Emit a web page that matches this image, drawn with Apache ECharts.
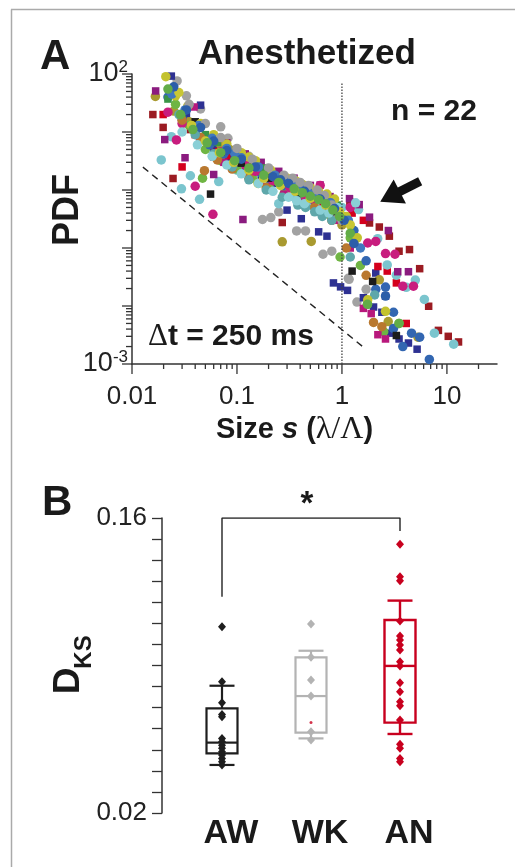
<!DOCTYPE html>
<html>
<head>
<meta charset="utf-8">
<script src="https://cdn.jsdelivr.net/npm/echarts@6/dist/echarts.min.js"></script>
<style>
  html, body { margin: 0; padding: 0; background: #fff; }
  #main { width: 515px; height: 867px; }
</style>
</head>
<body>
<div id="main"></div>
<script>
// ---- panel A: avalanche size PDFs, one list per recording, [size s, PDF]
const navySq = [[0.0237,92],[0.033,19],[0.045,29],[0.06,5.3],[0.072,4.4],[0.085,3.6],[0.1,3.0],[0.12,2.5],[0.17,1.8],[0.24,1.3],[0.3,0.45],[0.41,0.32],[0.48,0.75],[0.6,0.19],[0.72,0.16],[0.83,0.025],[0.97,0.0214],[1.13,0.0186],[1.6,0.0139],[2.0,0.0096],[2.1,0.037],[2.4,0.0078],[2.6,0.0148],[2.9,0.0034],[3.5,0.0027],[4.3,0.0023],[5.2,0.0018]];
const maroonSq = [[0.0158,20],[0.0198,12],[0.0246,1.58],[0.036,11],[0.05,8],[0.07,5.8],[0.1,4.2],[0.14,2.9],[0.2,2.1],[0.27,0.275],[0.4,1.2],[0.56,0.9],[0.8,0.62],[1.19,0.62],[1.83,0.27],[2.27,0.23],[2.83,0.16],[3.5,0.088],[4.4,0.094],[5.5,0.044],[6.7,0.0099],[8.3,0.0038],[10.3,0.003],[12.9,0.0024]];
const redSq = [[0.0198,20],[0.03,2.5],[0.04,9],[0.055,5.8],[0.067,4.6],[0.08,3.9],[0.11,2.9],[0.16,2.0],[0.23,1.4],[0.33,1.05],[0.47,0.78],[0.66,0.56],[0.95,0.45],[1.25,0.4],[1.6,0.3],[2.2,0.048],[2.7,0.04],[3.3,0.025],[4.1,0.005]];
const purpleSq = [[0.0168,51],[0.0205,7.4],[0.032,3.6],[0.045,13],[0.06,1.85],[0.08,6.5],[0.1,5.0],[0.114,0.31],[0.12,4.2],[0.17,3.0],[0.25,2.1],[0.35,1.6],[0.5,1.2],[0.62,1.22],[0.77,0.77],[1.18,0.71],[1.46,0.56],[1.83,0.34],[2.77,0.2],[3.4,0.039],[4.3,0.039]];
const pinkSq = [[0.039,27],[0.06,3.7],[0.075,3.0],[0.09,2.4],[0.13,1.7],[0.19,1.15],[0.28,0.85],[0.4,0.62],[0.6,0.42],[0.85,0.3],[1.2,0.1],[1.6,0.0091],[1.9,0.0074],[2.2,0.0032],[2.6,0.0027]];
const greenSq = [[0.022,37],[0.03,20],[0.05,9],[0.065,6.6],[0.08,5.2],[0.12,3.5],[0.18,2.4],[0.26,1.7],[0.37,1.3],[0.52,0.95],[0.7,0.7],[0.9,0.55]];
const blackSq = [[0.04,15],[0.056,0.85],[0.07,4.5],[0.11,2.9],[0.2,1.6],[0.4,0.9],[0.85,0.42],[1.25,0.04],[1.96,0.0265],[3.3,0.0031]];
const magentaC = [[0.022,22],[0.0265,7.3],[0.03,14],[0.04,1.16],[0.045,7.5],[0.059,0.38],[0.07,4.5],[0.1,3.2],[0.12,2.7],[0.15,2.1],[0.22,1.45],[0.32,1.1],[0.38,0.95],[0.45,0.8],[0.52,0.7],[0.62,1.2],[0.72,0.55],[0.85,0.45],[1.2,0.5],[1.76,0.122],[2.1,0.13],[2.6,0.08],[3.2,0.078],[3.8,0.022],[4.8,0.022]];
const grayC = [[0.0269,76],[0.033,42],[0.045,25],[0.07,12.3],[0.082,7.8],[0.099,4.9],[0.13,3.8],[0.175,0.31],[0.21,0.335],[0.25,0.42],[0.37,0.197],[0.45,0.197],[0.66,0.078],[0.8,0.088],[1.15,0.03],[1.17,0.0288],[1.39,0.0117],[1.7,0.0194]];
const oliveC = [[0.0167,41],[0.025,23],[0.035,15],[0.05,8.5],[0.07,6],[0.085,5.0],[0.1,4.2],[0.15,2.8],[0.2,2.0],[0.27,0.128],[0.3,1.5],[0.45,1.05],[0.51,0.13],[0.7,0.7],[1.0,0.25],[1.3,0.12],[2.27,0.0283],[2.76,0.0054],[5.3,0.0029]];
const yellowC = [[0.021,90],[0.026,42],[0.034,28],[0.045,14],[0.06,9],[0.08,6.2],[0.11,4.4],[0.13,3.7],[0.15,3.2],[0.159,1.3],[0.21,2.2],[0.3,1.6],[0.36,1.45],[0.42,1.25],[0.5,1.1],[0.6,0.95],[0.72,0.85],[0.85,0.7],[1.1,0.35],[1.4,0.15],[1.76,0.0128],[2.6,0.0081]];
const limeC = [[0.026,30],[0.035,13],[0.047,1.6],[0.05,5],[0.07,3.2],[0.1,2.3],[0.14,1.6],[0.2,1.15],[0.28,0.85],[0.4,0.65],[0.55,0.5],[0.75,0.38],[0.96,0.07],[1.2,0.15],[1.5,0.05],[1.75,0.0107],[2.5,0.0036],[3.5,0.005]];
const blueC = [[0.022,40],[0.03,17],[0.04,10],[0.055,6],[0.075,4.2],[0.1,3.1],[0.14,2.3],[0.17,1.95],[0.2,1.6],[0.28,1.2],[0.4,0.9],[0.55,0.65],[0.75,0.5],[1.0,0.35],[1.3,0.2],[1.7,0.06],[2.1,0.0194],[2.6,0.0212],[3.1,0.0078],[3.1,0.0041],[3.8,0.002],[4.6,0.0034],[5.5,0.0029],[6.8,0.0012]];
const cyanC = [[0.019,3.3],[0.0237,8.3],[0.0296,1.05],[0.036,1.76],[0.044,0.69],[0.067,1.4],[0.1,2.2],[0.15,2.0],[0.25,0.58],[0.35,0.75],[0.5,0.55],[0.75,0.45],[1.0,0.5],[1.44,0.46],[2.19,0.145],[2.7,0.051],[3.3,0.034],[4.1,0.021],[5.0,0.028],[6.1,0.013],[7.6,0.0034],[11.6,0.0022]];
const orangeC = [[0.03,16],[0.045,8],[0.049,2.15],[0.065,3.3],[0.09,2.3],[0.13,1.6],[0.19,1.1],[0.27,1.4],[0.38,1.1],[0.55,0.5],[0.8,0.3],[1.1,0.1],[1.7,0.0338],[2.0,0.0052],[2.4,0.0044]];
const tealC = [[0.028,20],[0.04,9],[0.06,4.2],[0.09,2.5],[0.13,1.5],[0.19,1.0],[0.27,0.75],[0.38,0.55],[0.45,0.5],[0.55,0.42],[0.65,0.35],[0.8,0.3],[1.2,0.07],[2.05,0.0155]];
const steelC = [[0.024,45],[0.032,24],[0.043,13],[0.058,7.8],[0.08,5.2],[0.095,4.3],[0.11,3.6],[0.16,2.5],[0.23,1.8],[0.28,1.55],[0.33,1.35],[0.4,1.15],[0.47,1.0],[0.56,0.85],[0.66,0.7],[0.78,0.6],[0.9,0.45],[1.15,0.3],[1.5,0.1]];
const yellowC2 = [[0.028,48],[0.037,13],[0.05,7],[0.068,4.4],[0.093,3.0],[0.13,2.2],[0.18,1.6],[0.26,1.2],[0.36,0.95],[0.5,0.72],[0.7,0.55],[0.95,0.42],[1.2,0.25]];
const cyanC2 = [[0.03,10],[0.042,6],[0.058,3.8],[0.08,2.7],[0.11,1.9],[0.16,1.3],[0.22,0.95],[0.31,0.75],[0.37,0.65],[0.44,0.58],[0.62,0.45],[0.75,0.4],[0.9,0.5],[1.35,0.6]];
const grayC2 = [[0.035,30],[0.05,14],[0.07,8],[0.1,5.2],[0.14,3.4],[0.2,2.4],[0.28,1.8],[0.34,1.6],[0.4,1.35],[0.48,1.2],[0.58,1.0],[0.68,0.8],[0.8,0.55],[1.0,0.3]];
const blueC2 = [[0.025,60],[0.033,24],[0.045,12],[0.06,7],[0.08,4.8],[0.11,3.4],[0.15,2.5],[0.22,1.7],[0.26,1.5],[0.31,1.3],[0.44,0.95],[0.62,0.7],[0.85,0.48],[1.05,0.3],[1.3,0.12],[2.6,0.0148]];
const limeC2 = [[0.022,55],[0.029,20],[0.038,11],[0.052,6.5],[0.07,4.4],[0.095,3.2],[0.13,2.4],[0.18,1.8],[0.25,1.35],[0.35,1.05],[0.42,0.9],[0.5,0.78],[0.6,0.68],[0.7,0.58],[0.82,0.45],[0.95,0.35],[1.2,0.18],[1.75,0.0107],[3.5,0.005]];

// guide lines in panel A
const slopeLine = [[0.0127,2.48],[1.66,0.00185]];
const cutLine = [[1,0.001],[1,70]];
const arrowFrom = [5.56,1.42];
const arrowTo = [2.87,0.769];

// tick values / labels
const xMajor = [0.01,0.1,1,10];
const xMajorLabels = ['0.01','0.1','1','10'];
const yMajor = [0.001,0.01,0.1,1,10,100];
const mult = [2,3,4,5,6,7,8,9];

// ---- panel B: D_KS per group
const groups = ['AW','WK','AN'];
// [whisker low, q1, median, q3, whisker high]
const boxAW = [0.0428,0.0483,0.0534,0.0697,0.0804];
const boxWK = [0.0554,0.0581,0.0755,0.0939,0.0970];
const boxAN = [0.0575,0.0629,0.0898,0.1116,0.1208];
const ptsAW = [0.1084,0.0823,0.0723,0.0668,0.0657,0.0554,0.0538,0.0521,0.0507,0.0491,0.0475,0.0459,0.0443,0.0428];
const ptsWK = [0.1097,0.0939,0.0831,0.0755,0.0586,0.0546];
const ptsAN = [0.1475,0.1321,0.1302,0.1111,0.1040,0.1021,0.0997,0.0974,0.0918,0.0898,0.0818,0.0776,0.0728,0.0709,0.0641,0.0526,0.0507,0.0459,0.0443];
const meanWK = 0.0629;
const bracket = [['AW',0.1226],['AW',0.16],['AN',0.16],['AN',0.1538]];

const boxColors = ['#1e1e1e','#b3b3b3','#c8001e'];

const cloud = [
  [grayC,'#a2a2a2','circle'], [navySq,'#2e3192','rect'], [maroonSq,'#9b1b22','rect'],
  [oliveC,'#a99a30','circle'], [redSq,'#d4001d','rect'], [cyanC,'#7bc5ce','circle'],
  [purpleSq,'#8b1b7f','rect'], [limeC,'#6fb543','circle'], [pinkSq,'#b8187c','rect'],
  [blueC,'#3266b1','circle'], [greenSq,'#3a9446','rect'], [magentaC,'#c81d7e','circle'],
  [orangeC,'#b9782f','circle'], [blackSq,'#1c1c1c','rect'], [tealC,'#5ea7aa','circle'],
  [yellowC,'#c3c22e','circle'], [steelC,'#4078bf','circle'], [cyanC2,'#8acfd6','circle'],
  [grayC2,'#9d9d9d','circle'], [yellowC2,'#c9c734','circle'], [blueC2,'#2c5ea9','circle'],
  [limeC2,'#62ac48','circle']
];

const xTicks = [];
xMajor.forEach(v => xTicks.push([v, 0.001, 10]));
[0.01,0.1,1].forEach(d => mult.forEach(m => xTicks.push([m * d, 0.001, 5])));
xTicks.push([20, 0.001, 5]);
const yTicks = [];
yMajor.forEach(v => yTicks.push([0.01, v, 10]));
[0.001,0.01,0.1,1,10].forEach(d => mult.forEach(m => yTicks.push([0.01, m * d, 6])));

const ink = '#1a1a1a';
const axisInk = '#333';
const sans = 'Liberation Sans, Arial, sans-serif';

let myChart = echarts.init(document.getElementById('main'));

const series = [
  {
    type: 'custom', xAxisIndex: 0, yAxisIndex: 0, clip: false, silent: true,
    data: xTicks,
    renderItem: function (params, api) {
      const p = api.coord([api.value(0), api.value(1)]);
      return { type: 'line', shape: { x1: p[0], y1: p[1], x2: p[0], y2: p[1] + api.value(2) },
        style: { stroke: axisInk, lineWidth: 1.3 } };
    }
  },
  {
    type: 'custom', xAxisIndex: 0, yAxisIndex: 0, clip: false, silent: true,
    data: yTicks,
    renderItem: function (params, api) {
      const p = api.coord([api.value(0), api.value(1)]);
      return { type: 'line', shape: { x1: p[0] - api.value(2), y1: p[1], x2: p[0], y2: p[1] },
        style: { stroke: axisInk, lineWidth: 1.3 } };
    }
  },
  {
    type: 'line', xAxisIndex: 0, yAxisIndex: 0, data: cutLine, symbol: 'none', silent: true,
    lineStyle: { color: '#444', width: 1.3, type: [1.5, 1.5] }
  },
  {
    type: 'line', xAxisIndex: 0, yAxisIndex: 0, data: slopeLine, symbol: 'none', silent: true,
    lineStyle: { color: '#222', width: 1.4, type: [7, 5] },
    markLine: {
      silent: true, animation: false,
      symbol: ['none', 'triangle'], symbolSize: [27, 22],
      label: { show: false },
      lineStyle: { color: '#111', width: 9, type: 'solid' },
      data: [[{ coord: arrowFrom }, { coord: arrowTo }]]
    }
  }
];

cloud.forEach(c => {
  series.push({
    type: 'scatter', xAxisIndex: 0, yAxisIndex: 0,
    data: c[0], symbol: c[2], symbolSize: c[2] === 'rect' ? 7.5 : 9.5,
    itemStyle: { color: c[1], opacity: 1 }
  });
});

// panel B
series.push({
  type: 'custom', xAxisIndex: 1, yAxisIndex: 1, clip: false,
  encode: { x: 0, y: [1, 2, 3, 4, 5] },
  data: [[0].concat(boxAW), [1].concat(boxWK), [2].concat(boxAN)],
  renderItem: function (params, api) {
    const i = api.value(0);
    const lo = api.coord([i, api.value(1)]);
    const q1 = api.coord([i, api.value(2)]);
    const md = api.coord([i, api.value(3)]);
    const q3 = api.coord([i, api.value(4)]);
    const hi = api.coord([i, api.value(5)]);
    const x = lo[0], bw = 15.5, cw = 12.5;
    const st = { stroke: boxColors[i], lineWidth: i === 2 ? 2.4 : 2.2, fill: 'none' };
    return {
      type: 'group', children: [
        { type: 'line', shape: { x1: x, y1: hi[1], x2: x, y2: q3[1] }, style: st },
        { type: 'line', shape: { x1: x, y1: q1[1], x2: x, y2: lo[1] }, style: st },
        { type: 'line', shape: { x1: x - cw, y1: hi[1], x2: x + cw, y2: hi[1] }, style: st },
        { type: 'line', shape: { x1: x - cw, y1: lo[1], x2: x + cw, y2: lo[1] }, style: st },
        { type: 'rect', shape: { x: x - bw, y: q3[1], width: 2 * bw, height: q1[1] - q3[1] }, style: st },
        { type: 'line', shape: { x1: x - bw, y1: md[1], x2: x + bw, y2: md[1] }, style: st }
      ]
    };
  }
});
[ptsAW, ptsWK, ptsAN].forEach((pts, i) => {
  series.push({
    type: 'scatter', xAxisIndex: 1, yAxisIndex: 1,
    data: pts.map(v => [groups[i], v]),
    symbol: 'diamond', symbolSize: [8, 9],
    itemStyle: { color: boxColors[i], opacity: 1 }
  });
});
series.push({
  type: 'scatter', xAxisIndex: 1, yAxisIndex: 1,
  data: [['WK', meanWK]], symbol: 'circle', symbolSize: 3,
  itemStyle: { color: '#c8001e' }
});
series.push({
  type: 'line', xAxisIndex: 1, yAxisIndex: 1, data: bracket, symbol: 'none', silent: true,
  lineStyle: { color: '#222', width: 1.4 }
});

myChart.setOption({
  animation: false,
  textStyle: { fontFamily: sans },
  grid: [
    { left: 132, top: 74, width: 365, height: 290 },
    { left: 177.5, top: 518, width: 267, height: 295 }
  ],
  xAxis: [
    {
      type: 'log', logBase: 10, min: 0.01, max: 30, gridIndex: 0,
      axisLine: { lineStyle: { color: axisInk, width: 1.5 } },
      axisTick: { show: false }, splitLine: { show: false }, minorTick: { show: false },
      axisLabel: {
        margin: 20, fontSize: 26, color: '#222',
        formatter: function (v) {
          const k = xMajor.findIndex(m => Math.abs(Math.log10(v) - Math.log10(m)) < 0.01);
          return k >= 0 ? xMajorLabels[k] : '';
        }
      },
      name: '{b|Size }{i|s}{b| (}{g|λ/Λ}{b|)}',
      nameLocation: 'middle', nameGap: 50, nameMoveOverlap: false,
      nameTextStyle: {
        padding: [0, 40, 0, 0],
        rich: {
          b: { fontSize: 29, fontWeight: 'bold', color: ink },
          i: { fontSize: 29, fontWeight: 'bold', fontStyle: 'italic', color: ink },
          g: { fontSize: 32, fontFamily: 'Liberation Serif, serif', color: ink }
        }
      }
    },
    {
      type: 'category', data: groups, gridIndex: 1,
      axisLine: { show: false }, axisTick: { show: false }, splitLine: { show: false },
      axisLabel: { margin: 4, fontSize: 34, fontWeight: 'bold', color: ink, padding: [0, 0, 0, 18] }
    }
  ],
  yAxis: [
    {
      type: 'log', logBase: 10, min: 0.001, max: 100, gridIndex: 0,
      axisLine: { lineStyle: { color: axisInk, width: 1.5 } },
      axisTick: { show: false }, splitLine: { show: false }, minorTick: { show: false },
      axisLabel: {
        margin: 4, color: '#222',
        formatter: function (v) {
          const e = Math.round(Math.log10(v));
          if (e === 2 || e === -3) return '{n|10}{sup|' + e + '}';
          return '';
        },
        rich: {
          n: { fontSize: 27, lineHeight: 30, color: '#222' },
          sup: { fontSize: 17, lineHeight: 12, verticalAlign: 'top', color: '#222' }
        }
      },
      name: 'PDF', nameLocation: 'middle', nameRotate: 90, nameGap: 46, nameMoveOverlap: false,
      nameTextStyle: { fontSize: 36, fontWeight: 'bold', color: ink, padding: [0, 0, 0, 18] }
    },
    {
      type: 'value', min: 0.02, max: 0.16, interval: 0.01, gridIndex: 1, offset: 15.5,
      axisLine: { show: true, lineStyle: { color: axisInk, width: 1.5 } },
      axisTick: { show: true, length: 10, lineStyle: { color: axisInk, width: 1.3 } },
      splitLine: { show: false },
      axisLabel: {
        margin: 15, fontSize: 26, color: '#222',
        formatter: function (v) {
          if (Math.abs(v - 0.16) < 1e-6) return '0.16';
          if (Math.abs(v - 0.02) < 1e-6) return '0.02';
          return '';
        }
      }
    }
  ],
  graphic: [
    { type: 'line', shape: { x1: 11.5, y1: 9.5, x2: 11.5, y2: 867 }, style: { stroke: '#aaa', lineWidth: 1.5 }, silent: true },
    { type: 'line', shape: { x1: 11, y1: 9.5, x2: 515, y2: 9.5 }, style: { stroke: '#aaa', lineWidth: 1.5 }, silent: true },
    { type: 'text', x: 40, y: 57, style: { text: 'A', font: 'bold 42px ' + sans, fill: ink, align: 'left', verticalAlign: 'middle' } },
    { type: 'text', x: 42, y: 503, style: { text: 'B', font: 'bold 42px ' + sans, fill: ink, align: 'left', verticalAlign: 'middle' } },
    { type: 'text', x: 307, y: 54, style: { text: 'Anesthetized', font: 'bold 35px ' + sans, fill: ink, align: 'center', verticalAlign: 'middle' } },
    { type: 'text', x: 434, y: 112, style: { text: 'n = 22', font: 'bold 30px ' + sans, fill: ink, align: 'center', verticalAlign: 'middle' } },
    { type: 'text', x: 148, y: 337, style: {
        text: '{g|Δ}{b|t = 250 ms}', align: 'left', verticalAlign: 'middle',
        rich: {
          g: { font: '31px Liberation Serif, serif', fill: ink },
          b: { font: 'bold 30px ' + sans, fill: ink }
        } } },
    { type: 'text', x: 307, y: 505, style: { text: '*', font: 'bold 33px ' + sans, fill: ink, align: 'center', verticalAlign: 'middle' } },
    // D_KS axis title, rotated
    { type: 'text', x: 69, y: 681, rotation: Math.PI / 2, style: { text: 'D', font: 'bold 37px ' + sans, fill: ink, align: 'center', verticalAlign: 'middle' } },
    { type: 'text', x: 84, y: 652, rotation: Math.PI / 2, style: { text: 'KS', font: 'bold 24px ' + sans, fill: ink, align: 'center', verticalAlign: 'middle' } }
  ],
  series: series
});

window.onresize = function () {
  myChart.resize();
};
</script>
</body>
</html>
